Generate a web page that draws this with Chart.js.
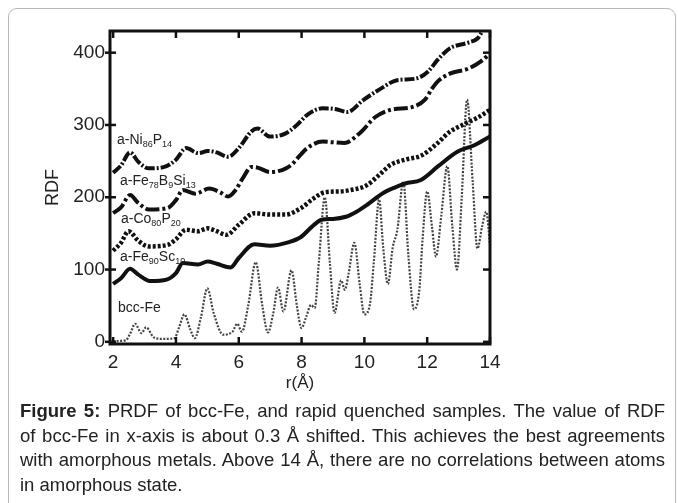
<!DOCTYPE html>
<html>
<head>
<meta charset="utf-8">
<script src="https://cdn.jsdelivr.net/npm/chart.js"></script>
<style>
  body { margin: 0; background: #fff; font-family: "Liberation Sans", Arial, sans-serif; }
  #wrap { position: relative; width: 678px; height: 503px; overflow: hidden; background: #fff; }
  .card { position: absolute; left: 8px; top: 8px; width: 666px; height: 540px; border: 1px solid #b8b8b8; border-radius: 9px; }
  #chartBox { position: absolute; left: 0; top: 0; width: 678px; height: 400px; }
  .lbl { position: absolute; font-size: 14px; color: #222; white-space: nowrap; }
  .lbl sub { font-size: 9px; vertical-align: -3px; line-height: 0; }
  .caption { position: absolute; left: 20px; top: 399px; width: 645px; font-size: 18.5px; line-height: 24.5px; color: #222; }
  .caption .j { text-align: justify; text-align-last: justify; }
</style>
</head>
<body>
<div id="wrap">
  <div class="card"></div>
  <div id="chartBox"><canvas id="rdfChart" width="678" height="400"></canvas></div>

  <div class="lbl" style="left:117px; top:131px;">a-Ni<sub>86</sub>P<sub>14</sub></div>
  <div class="lbl" style="left:120px; top:172px;">a-Fe<sub>78</sub>B<sub>9</sub>Si<sub>13</sub></div>
  <div class="lbl" style="left:121px; top:210px;">a-Co<sub>80</sub>P<sub>20</sub></div>
  <div class="lbl" style="left:120px; top:248px;">a-Fe<sub>90</sub>Sc<sub>10</sub></div>
  <div class="lbl" style="left:118px; top:299px;">bcc-Fe</div>

  <div class="caption">
    <div class="j"><b>Figure 5:</b> PRDF of bcc-Fe, and rapid quenched samples. The value of RDF</div>
    <div class="j">of bcc-Fe in x-axis is about 0.3 Å shifted. This achieves the best agreements</div>
    <div class="j">with amorphous metals. Above 14 Å, there are no correlations between atoms</div>
    <div>in amorphous state.</div>
  </div>
</div>

<script>
// tick values
const xTicks = [2, 4, 6, 8, 10, 12, 14];
const yTicks = [0, 100, 200, 300, 400];

// a-Ni86P14
const niX = [2.0, 2.25, 2.54, 2.8, 3.14, 3.63, 4.0, 4.32, 4.72, 5.01, 5.3, 5.66, 6.0, 6.4, 6.6, 6.99, 7.48, 7.85, 8.18, 8.67, 9.07, 9.46, 9.95, 10.55, 11.04, 11.63, 12.03, 12.33, 12.72, 13.31, 13.61, 13.76];
const niY = [234, 244, 262, 249, 240, 242, 252, 268, 261, 264, 262, 256, 268, 291, 295, 284, 288, 300, 314, 323, 322, 318, 334, 351, 362, 364, 374, 390, 406, 414, 420, 430];

// a-Fe78B9Si13
const feBX = [2.0, 2.25, 2.54, 2.8, 3.14, 3.73, 4.0, 4.22, 4.62, 5.06, 5.4, 5.66, 5.9, 6.15, 6.4, 6.6, 6.99, 7.4, 7.68, 7.95, 8.18, 8.67, 9.0, 9.36, 9.86, 10.35, 10.84, 11.54, 11.93, 12.15, 12.33, 12.72, 13.31, 13.71, 14.0];
const feBY = [178, 186, 203, 192, 183, 185, 196, 210, 205, 212, 207, 201, 210, 228, 242, 241, 235, 238, 245, 258, 268, 277, 276, 275, 289, 311, 321, 325, 335, 350, 360, 371, 378, 388, 399];

// a-Co80P20
const coX = [2.0, 2.25, 2.49, 2.8, 3.14, 3.73, 4.0, 4.32, 4.7, 5.01, 5.3, 5.61, 6.0, 6.5, 6.99, 7.48, 7.98, 8.37, 8.75, 9.2, 9.56, 10.05, 10.5, 10.84, 11.3, 11.83, 12.33, 12.7, 13.12, 13.6, 14.0];
const coY = [126, 137, 153, 140, 132, 134, 142, 155, 153, 157, 153, 148, 162, 178, 176, 176, 185, 198, 207, 208, 210, 216, 232, 245, 252, 258, 275, 290, 300, 310, 321];

// a-Fe90Sc10
const feSX = [2.0, 2.25, 2.54, 2.8, 3.2, 3.7, 4.0, 4.22, 4.7, 5.01, 5.3, 5.74, 6.0, 6.5, 6.99, 7.6, 7.98, 8.3, 8.64, 9.0, 9.41, 9.75, 10.1, 10.6, 11.0, 11.3, 11.8, 12.35, 12.96, 13.5, 14.0];
const feSY = [80, 88, 101, 93, 84, 86, 95, 109, 107, 111, 108, 103, 116, 135, 133, 138, 145, 158, 169, 170, 173, 180, 190, 206, 214, 219, 224, 243, 263, 272, 284];

// bcc-Fe
const bccX = [2.0, 2.4, 2.55, 2.7, 2.9, 3.05, 3.3, 3.6, 3.95, 4.1, 4.27, 4.45, 4.6, 4.8, 5.0, 5.2, 5.5, 5.8, 5.95, 6.1, 6.3, 6.54, 6.75, 6.93, 7.1, 7.25, 7.42, 7.68, 7.85, 8.0, 8.15, 8.3, 8.42, 8.55, 8.74, 8.9, 9.05, 9.26, 9.38, 9.5, 9.68, 9.85, 10.0, 10.18, 10.3, 10.47, 10.6, 10.75, 10.9, 11.05, 11.24, 11.4, 11.58, 11.75, 11.85, 12.0, 12.15, 12.28, 12.45, 12.64, 12.8, 12.95, 13.1, 13.27, 13.45, 13.6, 13.75, 13.88, 14.0];
const bccY = [1, 2, 12, 25, 12, 20, 6, 4, 5, 20, 38, 18, 5, 35, 74, 40, 10, 14, 25, 14, 50, 110, 50, 13, 40, 75, 42, 99, 50, 19, 35, 51, 47, 110, 200, 110, 40, 85, 72, 95, 137, 80, 38, 53, 110, 197, 130, 80, 130, 155, 222, 120, 45, 72, 140, 208, 160, 118, 175, 243, 160, 100, 200, 335, 220, 129, 160, 180, 134];

function toPoints(xs, ys) {
  return xs.map((x, i) => ({ x: x, y: ys[i] }));
}

function series(xs, ys, width, dash, color) {
  return {
    data: toPoints(xs, ys),
    borderColor: color || '#111',
    borderWidth: width,
    borderDash: dash,
    pointRadius: 0,
    fill: false,
    cubicInterpolationMode: 'monotone'
  };
}

// box frame with inward ticks, drawn on top of the curves
const framePlugin = {
  id: 'frame',
  afterDatasetsDraw(chart) {
    const { ctx, chartArea: a, scales: { x, y } } = chart;
    const seg = (x1, y1, x2, y2) => { ctx.beginPath(); ctx.moveTo(x1, y1); ctx.lineTo(x2, y2); ctx.stroke(); };
    ctx.save();
    ctx.strokeStyle = '#111';
    ctx.lineWidth = 2.5;
    xTicks.forEach(v => {
      const px = x.getPixelForValue(v);
      seg(px, a.bottom, px, a.bottom - 7);
      seg(px, a.top, px, a.top + 7);
    });
    yTicks.forEach(v => {
      const py = y.getPixelForValue(v);
      seg(a.left - 5, py, a.left + 6, py);
      seg(a.right, py, a.right - 7, py);
    });
    ctx.lineWidth = 3;
    ctx.strokeRect(a.left, a.top, a.right - a.left, a.bottom - a.top);
    ctx.restore();
  }
};

const ctx = document.getElementById('rdfChart').getContext('2d');
const rdfChart = new Chart(ctx, {
  type: 'line',
  data: {
    datasets: [
      series(niX, niY, 4, [10, 2, 2, 2]),
      series(feBX, feBY, 4, [14, 3, 3, 3]),
      series(coX, coY, 4.5, [3, 2]),
      series(feSX, feSY, 4, []),
      series(bccX, bccY, 2.2, [2, 1.5], '#444')
    ]
  },
  options: {
    responsive: false,
    animation: false,
    layout: { padding: { top: 31, right: 188, left: 0, bottom: 0 } },
    plugins: { legend: { display: false }, tooltip: { enabled: false } },
    scales: {
      x: {
        type: 'linear',
        min: 1.9,
        max: 14,
        grid: { display: false, drawTicks: false },
        border: { display: false },
        afterBuildTicks: s => { s.ticks = xTicks.map(v => ({ value: v })); },
        afterFit: s => { s.height = 56; },
        ticks: { font: { size: 19, family: 'Liberation Sans' }, color: '#222', padding: 7, maxRotation: 0 },
        title: { display: true, text: 'r(Å)', font: { size: 17, family: 'Liberation Sans' }, color: '#222', padding: { top: 0, bottom: 6 } }
      },
      y: {
        min: -3,
        max: 430,
        grid: { display: false, drawTicks: false },
        border: { display: false },
        afterBuildTicks: s => { s.ticks = yTicks.map(v => ({ value: v })); },
        afterFit: s => { s.width = 110; },
        ticks: { font: { size: 19, family: 'Liberation Sans' }, color: '#222', padding: 5 },
        title: { display: true, text: 'RDF', font: { size: 18, family: 'Liberation Sans' }, color: '#222', padding: { top: 42, bottom: 0 } }
      }
    }
  },
  plugins: [framePlugin]
});
</script>
</body>
</html>
